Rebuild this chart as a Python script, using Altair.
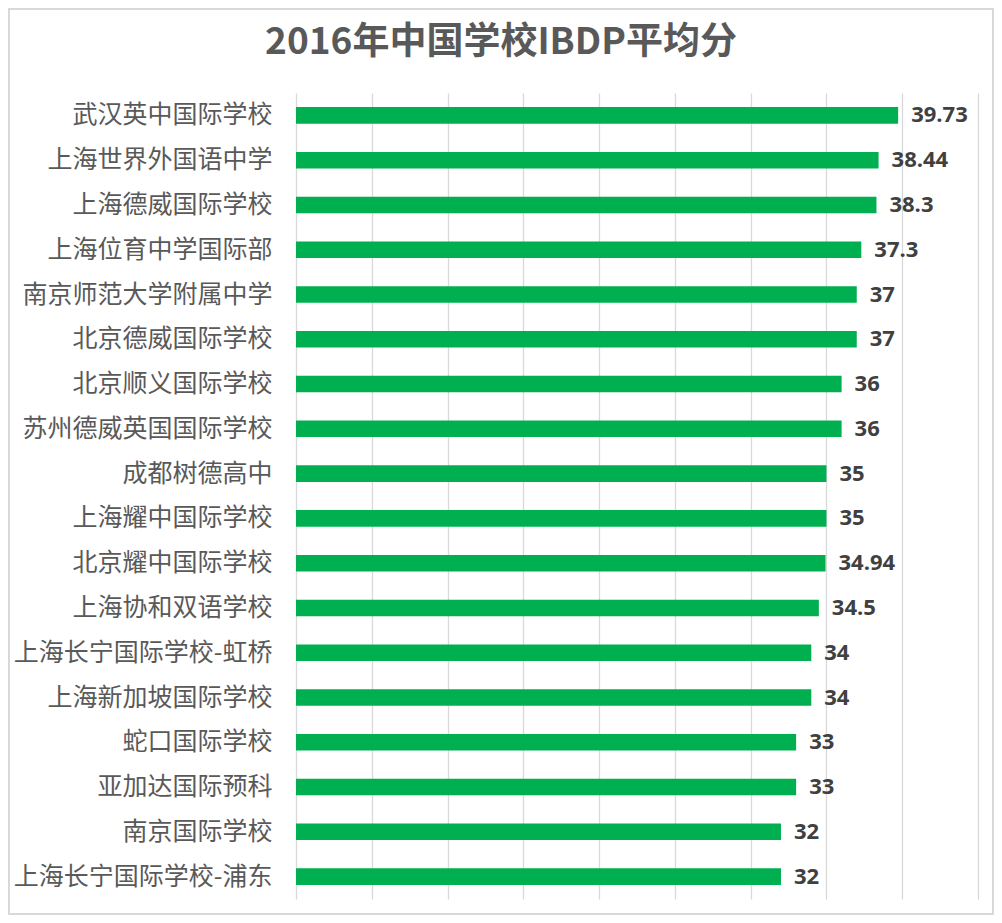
import altair as alt
import pandas as pd

title_text = "2016年中国学校IBDP平均分"
schools = ["武汉英中国际学校", "上海世界外国语中学", "上海德威国际学校", "上海位育中学国际部",
           "南京师范大学附属中学", "北京德威国际学校", "北京顺义国际学校", "苏州德威英国国际学校",
           "成都树德高中", "上海耀中国际学校", "北京耀中国际学校", "上海协和双语学校",
           "上海长宁国际学校-虹桥", "上海新加坡国际学校", "蛇口国际学校", "亚加达国际预科",
           "南京国际学校", "上海长宁国际学校-浦东"]
scores = [39.73, 38.44, 38.3, 37.3, 37, 37, 36, 36, 35, 35, 34.94, 34.5, 34, 34, 33, 33, 32, 32]
labels = ["39.73", "38.44", "38.3", "37.3", "37", "37", "36", "36", "35", "35", "34.94", "34.5",
          "34", "34", "33", "33", "32", "32"]
grid_ticks = [0, 5, 10, 15, 20, 25, 30, 35, 40, 45]

df = pd.DataFrame({"school": schools, "score": scores, "label": labels})

W, H = 682, 806
PL, PT, PR, PB = 288, 85, 16, 16

x_enc = alt.X("score:Q", scale=alt.Scale(domain=[0, 45], nice=False),
              axis=alt.Axis(values=grid_ticks, labels=False, ticks=False, domain=False,
                            grid=True, gridColor="#d9d9d9", gridWidth=1.3, title=None))
y_enc = alt.Y("school:N", sort=None,
              scale=alt.Scale(paddingInner=0.63, paddingOuter=0.315),
              axis=alt.Axis(title=None, ticks=False, domain=False, labelPadding=24,
                            labelFont="Noto Sans CJK SC", labelFontSize=25,
                            labelColor="#595959", labelLimit=400))

bars = alt.Chart(df).mark_bar(color="#00B050").encode(x=x_enc, y=y_enc)
text = alt.Chart(df).mark_text(align="left", baseline="middle", dx=13,
                               font="Open Sans", fontWeight="bold", fontSize=22,
                               color="#404040").encode(
    x="score:Q", y=alt.Y("school:N", sort=None), text="label:N")

title = alt.Chart(pd.DataFrame({"t": [title_text]})).mark_text(
    align="center", baseline="middle", font="Noto Sans CJK SC", fontSize=37,
    fontWeight="bold", color="#595959").encode(
    x=alt.value(205), y=alt.value(-50), text="t:N")

border = alt.Chart(pd.DataFrame({"a": [0]})).mark_rect(
    fill=None, stroke="#d9d9d9", strokeWidth=2).encode(
    x=alt.value(-PL + 1), x2=alt.value(W + PR - 1),
    y=alt.value(-PT + 1), y2=alt.value(H + PB - 1))

chart = alt.layer(bars, text, title, border).properties(
    width=W, height=H,
    padding={"left": PL, "top": PT, "right": PR, "bottom": PB},
    autosize=alt.AutoSizeParams(type="none"),
    background="white",
).configure_view(stroke=None)

chart.save("out.html", embed_options={"renderer": "svg", "actions": False})
